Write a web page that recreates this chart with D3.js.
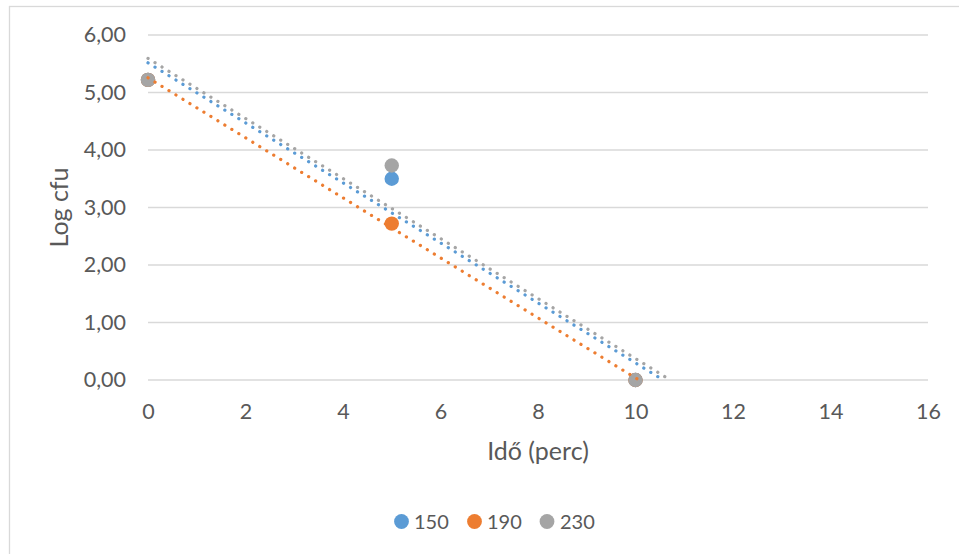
<!DOCTYPE html>
<html>
<head>
<meta charset="utf-8">
<script src="https://cdn.jsdelivr.net/npm/d3@7"></script>
<style>
  html, body { margin: 0; padding: 0; background: #fff; }
  svg text { font-family: Lato, "Open Sans", sans-serif; fill: #595959; }
</style>
</head>
<body>
<svg id="chart" width="959" height="554"></svg>
<script>
// Measurement times (minutes)
const times = [0, 5, 10];
// Log cfu per temperature series
const seriesNames = ["150", "190", "230"];
const values150 = [5.22, 3.50, 0.00];
const values190 = [5.22, 2.72, 0.00];
const values230 = [5.22, 3.73, 0.00];
const colors = ["#5b9bd5", "#ed7d31", "#a5a5a5"];
const xTicks = [0, 2, 4, 6, 8, 10, 12, 14, 16];
const yTicks = [0, 1, 2, 3, 4, 5, 6];

const series = [
  { name: seriesNames[0], values: values150, color: colors[0] },
  { name: seriesNames[1], values: values190, color: colors[1] },
  { name: seriesNames[2], values: values230, color: colors[2] }
];

const svg = d3.select("#chart");
const plot = { left: 148, right: 928, top: 35, bottom: 380 };

// Outer chart frame
svg.append("rect")
  .attr("x", 9.5).attr("y", 6.5)
  .attr("width", 1000).attr("height", 1000)
  .attr("fill", "none").attr("stroke", "#d9d9d9").attr("stroke-width", 1.3);

const x = d3.scaleLinear().domain([0, 16]).range([plot.left, plot.right]);
const y = d3.scaleLinear().domain([0, 6]).range([plot.bottom, plot.top]);

// Horizontal gridlines
svg.append("g")
  .selectAll("line").data(yTicks).join("line")
  .attr("x1", plot.left).attr("x2", plot.right)
  .attr("y1", d => y(d)).attr("y2", d => y(d))
  .attr("stroke", "#d9d9d9").attr("stroke-width", 1.3);

const fmt = d => d3.format(".2f")(d).replace(".", ",");

// Y axis labels
const yAxis = svg.append("g")
  .attr("transform", `translate(${plot.left},0)`)
  .call(d3.axisLeft(y).tickValues(yTicks).tickFormat(fmt).tickSize(0).tickPadding(22));
yAxis.select(".domain").remove();
yAxis.selectAll("text")
  .style("font-size", "21.5px")
  .style("font-family", "Lato, 'Open Sans', sans-serif")
  .attr("fill", "#595959");

// X axis labels
const xAxis = svg.append("g")
  .attr("transform", `translate(0,${plot.bottom})`)
  .call(d3.axisBottom(x).tickValues(xTicks).tickFormat(d3.format("d")).tickSize(0).tickPadding(24));
xAxis.select(".domain").remove();
xAxis.selectAll("text")
  .style("font-size", "21.5px")
  .style("font-family", "Lato, 'Open Sans', sans-serif")
  .attr("fill", "#595959");

// Axis titles
svg.append("text")
  .attr("x", (plot.left + plot.right) / 2).attr("y", 460)
  .attr("text-anchor", "middle")
  .style("font-size", "25px")
  .text("Idő (perc)");
svg.append("text")
  .attr("transform", `translate(68,${(plot.top + plot.bottom) / 2}) rotate(-90)`)
  .attr("text-anchor", "middle")
  .style("font-size", "25px")
  .text("Log cfu");

// Markers
series.forEach(s => {
  svg.append("g")
    .selectAll("circle").data(times.map((t, i) => [t, s.values[i]])).join("circle")
    .attr("cx", d => x(d[0])).attr("cy", d => y(d[1]))
    .attr("r", 7.2)
    .attr("fill", s.color);
});

// Linear trendlines (least squares), clipped to the plot area
svg.append("clipPath").attr("id", "plotClip")
  .append("rect")
  .attr("x", plot.left - 2).attr("y", plot.top)
  .attr("width", plot.right - plot.left + 4).attr("height", plot.bottom - plot.top + 1.5);

function regression(xs, ys) {
  const mx = d3.mean(xs), my = d3.mean(ys);
  const slope = d3.sum(xs, (v, i) => (v - mx) * (ys[i] - my)) / d3.sum(xs, v => (v - mx) ** 2);
  return { slope, intercept: my - slope * mx };
}

series.forEach(s => {
  const r = regression(times, s.values);
  const xEnd = -r.intercept / r.slope; // trend runs until it reaches the axis
  svg.append("line")
    .attr("clip-path", "url(#plotClip)")
    .attr("x1", x(0)).attr("y1", y(r.intercept))
    .attr("x2", x(xEnd)).attr("y2", y(0))
    .attr("stroke", s.color)
    .attr("stroke-width", 3.2)
    .attr("stroke-linecap", "round")
    .attr("stroke-dasharray", "0.1 8.1");
});

// Legend
const legendItems = [
  { cx: 401.5, tx: 414 },
  { cx: 474.5, tx: 487 },
  { cx: 547, tx: 560 }
];
const legend = svg.append("g");
series.forEach((s, i) => {
  legend.append("circle")
    .attr("cx", legendItems[i].cx).attr("cy", 521.5)
    .attr("r", 7.4).attr("fill", s.color);
  legend.append("text")
    .attr("x", legendItems[i].tx).attr("y", 528.5)
    .style("font-size", "20px")
    .text(s.name);
});
</script>
</body>
</html>
